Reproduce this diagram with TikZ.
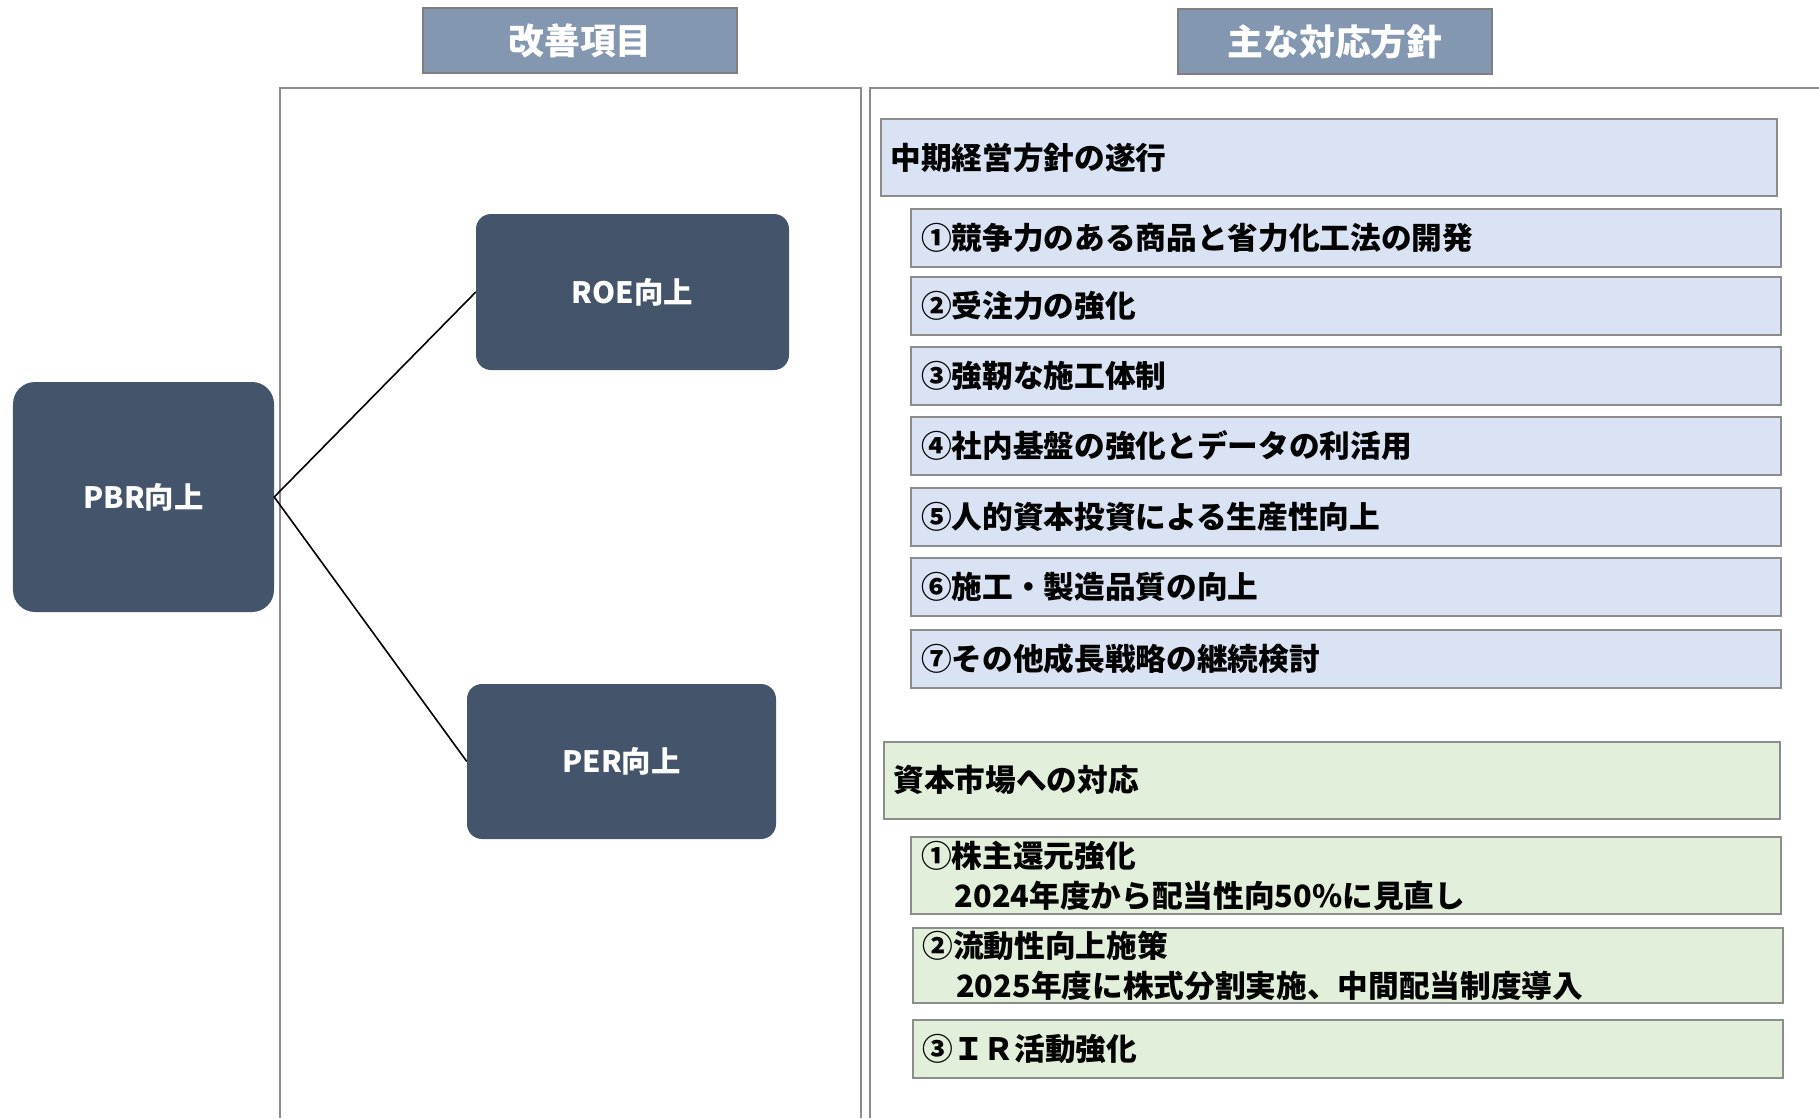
\documentclass[tikz,border=0pt]{standalone}
\usepackage{fontspec}
\setmainfont{Noto Sans CJK JP}
\definecolor{darkbox}{HTML}{44546A}
\definecolor{headfill}{HTML}{8497B0}
\definecolor{headborder}{HTML}{7F7F7F}
\definecolor{lblue}{HTML}{DAE3F3}
\definecolor{lgreen}{HTML}{E2EFDA}
\definecolor{itemborder}{HTML}{8C8C8C}
\definecolor{panelline}{HTML}{8C8C8C}
\begin{document}
\begin{tikzpicture}[x=1bp,y=-1bp,
  darkbox/.style={fill=darkbox, text=white, inner sep=0pt,
    font=\fontsize{29.5}{34}\selectfont\bfseries},
  headbox/.style={fill=headfill, draw=headborder, line width=2bp, text=white,
    inner sep=0pt, minimum height=65bp, font=\fontsize{36}{40}\selectfont\bfseries},
  itembox/.style={draw=itemborder, line width=2bp, align=left, inner xsep=10bp,
    inner ysep=0pt, font=\fontsize{30.8}{40}\selectfont\bfseries},
  wideitem/.style={itembox, minimum width=870bp, text width=850bp},
  capbox/.style={itembox, minimum width=896bp, text width=876bp, minimum height=77bp},
  panel/.style={draw=panelline, line width=2bp},
  link/.style={draw=black, line width=1.6bp}
]
\useasboundingbox (0,0) rectangle (1819,1118);

% panels
\draw[panel] (280,1118) -- (280,88) -- (861,88) -- (861,1118);
\draw[panel] (870,1118) -- (870,88) -- (1819,88);

% headers
\node[headbox, minimum width=314bp] (h1) at (580,40.5) {改善項目};
\node[headbox, minimum width=314bp] (h2) at (1335,41.5) {主な対応方針};

% dark boxes
\node[darkbox, rounded corners=22bp, minimum width=261bp, minimum height=230bp] (pbr) at (143.5,497) {PBR向上};
\node[darkbox, rounded corners=15bp, minimum width=313bp, minimum height=156bp] (roe) at (632.5,292) {ROE向上};
\node[darkbox, rounded corners=15bp, minimum width=309bp, minimum height=155bp] (per) at (621.5,761.5) {PER向上};

\draw[link] (roe.west) -- (pbr.east) -- (per.west);

% mid-term plan
\node[capbox, fill=lblue] (mid) at (1328.5,157.5) {中期経営方針の遂行};
\node[wideitem, fill=lblue, minimum height=58bp] (i1) at (1346,238) {①競争力のある商品と省力化工法の開発};
\node[wideitem, fill=lblue, minimum height=58bp] (i2) at (1346,306) {②受注力の強化};
\node[wideitem, fill=lblue, minimum height=58bp] (i3) at (1346,376) {③強靭な施工体制};
\node[wideitem, fill=lblue, minimum height=58bp] (i4) at (1346,446) {④社内基盤の強化とデータの利活用};
\node[wideitem, fill=lblue, minimum height=58bp] (i5) at (1346,517) {⑤人的資本投資による生産性向上};
\node[wideitem, fill=lblue, minimum height=58bp] (i6) at (1346,587) {⑥施工・製造品質の向上};
\node[wideitem, fill=lblue, minimum height=58bp] (i7) at (1346,659) {⑦その他成長戦略の継続検討};

% capital market
\node[capbox, fill=lgreen] (cap) at (1331.5,780) {資本市場への対応};
\node[wideitem, fill=lgreen, minimum height=77bp] (c1) at (1346,875.5) {①株主還元強化\\\hspace*{1.1em}2024年度から配当性向50\%に見直し};
\node[wideitem, fill=lgreen, minimum height=75bp] (c2) at (1347.5,965.5) {②流動性向上施策\\\hspace*{1.1em}2025年度に株式分割実施、中間配当制度導入};
\node[wideitem, fill=lgreen, minimum height=58bp] (c3) at (1347.5,1049) {③ＩＲ活動強化};
\end{tikzpicture}
\end{document}
